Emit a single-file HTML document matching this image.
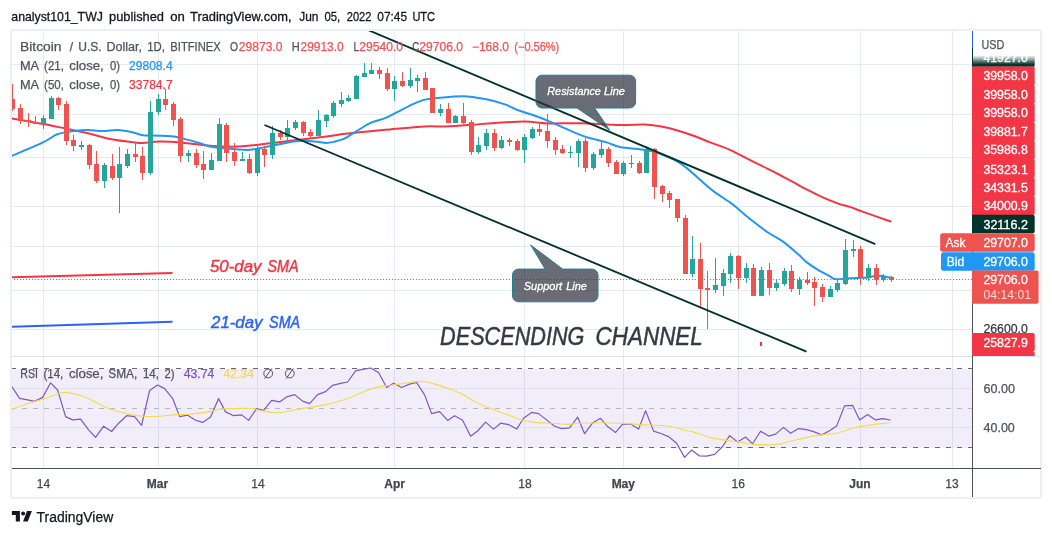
<!DOCTYPE html>
<html><head><meta charset="utf-8"><title>BTCUSD chart</title>
<style>
html,body{margin:0;padding:0;background:#fff;}
body{width:1052px;height:536px;overflow:hidden;font-family:"Liberation Sans",sans-serif;}
svg{display:block;font-family:"Liberation Sans",sans-serif;will-change:transform;}
</style></head><body>
<svg width="1052" height="536" viewBox="0 0 1052 536">
<defs>
<clipPath id="cpMain"><rect x="12" y="31" width="960" height="325"/></clipPath>
<clipPath id="cpRsi"><rect x="12" y="357" width="960" height="111"/></clipPath>
<linearGradient id="fade" x1="0" y1="0" x2="0" y2="1"><stop offset="0" stop-color="#00332a" stop-opacity="0"/><stop offset="0.75" stop-color="#00332a" stop-opacity="1"/><stop offset="1" stop-color="#00332a" stop-opacity="1"/></linearGradient>
<linearGradient id="wfade" x1="0" y1="0" x2="0" y2="1"><stop offset="0" stop-color="#fff" stop-opacity="1"/><stop offset="0.46" stop-color="#fff" stop-opacity="1"/><stop offset="0.98" stop-color="#fff" stop-opacity="0"/></linearGradient>
</defs>
<rect width="1052" height="536" fill="#fff"/>
<rect x="11" y="30" width="1030" height="468" rx="1.5" fill="#fff" stroke="#edeff4" stroke-width="2"/>
<g shape-rendering="crispEdges" stroke="#e2ecf3" stroke-width="1">
<line x1="43.5" y1="31" x2="43.5" y2="468"/>
<line x1="158.5" y1="31" x2="158.5" y2="468"/>
<line x1="257.5" y1="31" x2="257.5" y2="468"/>
<line x1="394.5" y1="31" x2="394.5" y2="468"/>
<line x1="524.5" y1="31" x2="524.5" y2="468"/>
<line x1="623.5" y1="31" x2="623.5" y2="468"/>
<line x1="738.5" y1="31" x2="738.5" y2="468"/>
<line x1="860.5" y1="31" x2="860.5" y2="468"/>
<line x1="952.5" y1="31" x2="952.5" y2="468"/>
<line x1="12" y1="64.5" x2="972" y2="64.5"/>
<line x1="12" y1="114.5" x2="972" y2="114.5"/>
<line x1="12" y1="157.5" x2="972" y2="157.5"/>
<line x1="12" y1="206.5" x2="972" y2="206.5"/>
<line x1="12" y1="246.5" x2="972" y2="246.5"/>
<line x1="12" y1="290.5" x2="972" y2="290.5"/>
<line x1="12" y1="329.5" x2="972" y2="329.5"/>
</g>
<rect x="12" y="369" width="960" height="79" fill="#7e57c2" fill-opacity="0.10"/>
<g shape-rendering="crispEdges" stroke="#dbe3f0" stroke-width="1">
<line x1="12" y1="388.5" x2="972" y2="388.5"/>
<line x1="12" y1="427.5" x2="972" y2="427.5"/>
</g>
<line x1="12" y1="356.5" x2="1040" y2="356.5" stroke="#e0e3eb" stroke-width="1" shape-rendering="crispEdges"/>
<g shape-rendering="crispEdges" stroke-width="1" fill="none">
<line x1="12" y1="368.5" x2="972" y2="368.5" stroke="#666975" stroke-dasharray="5 6" stroke-dashoffset="1"/>
<line x1="12" y1="447.5" x2="972" y2="447.5" stroke="#666975" stroke-dasharray="5 6" stroke-dashoffset="1"/>
<line x1="12" y1="408.5" x2="972" y2="408.5" stroke="#b4b6c0" stroke-dasharray="5 6" stroke-dashoffset="1"/>
</g>
<g clip-path="url(#cpMain)">
<path d="M11.0 118.3C16.3 119.2 33.8 122.3 43.0 124.0C52.2 125.7 58.5 127.1 66.0 128.6C73.5 130.1 80.7 131.5 88.0 133.2C95.3 134.9 102.2 137.5 110.0 139.0C117.8 140.5 129.5 141.8 135.0 142.4C140.5 143.1 138.8 143.0 143.0 142.9C147.2 142.8 153.0 141.6 160.0 141.6C167.0 141.6 176.7 142.2 185.0 142.9C193.3 143.6 201.7 145.2 210.0 145.8C218.3 146.4 227.2 146.8 235.0 146.6C242.8 146.4 250.4 145.5 256.5 144.9C262.6 144.3 264.0 143.8 271.5 142.9C279.0 142.0 292.4 140.7 301.5 139.6C310.6 138.5 319.5 137.5 326.4 136.6C333.3 135.7 337.4 134.8 343.0 134.1C348.6 133.4 352.2 133.0 360.0 132.2C367.8 131.4 379.2 130.4 390.0 129.4C400.8 128.4 415.7 126.9 425.0 126.4C434.3 125.9 438.3 126.8 446.0 126.5C453.7 126.2 462.8 125.5 471.0 124.9C479.2 124.3 486.0 123.5 495.0 123.0C504.0 122.5 516.2 121.5 525.0 121.6C533.8 121.7 538.7 123.1 548.0 123.4C557.3 123.7 569.0 123.0 581.0 123.3C593.0 123.6 609.3 124.8 620.0 125.0C630.7 125.2 638.1 124.3 645.0 124.6C651.9 124.9 656.1 125.6 661.6 126.6C667.1 127.6 672.7 129.2 678.2 130.8C683.8 132.4 689.4 134.3 694.9 136.3C700.4 138.3 706.0 140.8 711.5 142.9C717.0 145.0 722.7 146.7 728.2 149.1C733.8 151.5 739.3 154.6 744.8 157.4C750.3 160.2 755.9 162.9 761.4 165.7C766.9 168.5 772.5 171.1 778.0 174.0C783.5 176.9 790.2 180.5 794.7 182.9C799.2 185.3 800.5 186.3 805.0 188.6C809.5 190.9 816.1 194.4 821.6 196.9C827.1 199.4 833.5 201.9 838.2 203.6C842.9 205.3 845.7 205.5 849.9 206.9C854.1 208.3 856.4 209.5 863.2 211.9C870.0 214.3 886.0 219.9 890.6 221.5" fill="none" stroke="#f23645" stroke-width="2" stroke-linejoin="round" stroke-linecap="round"/>
<path d="M11.0 156.2C16.3 153.9 35.2 146.1 43.0 142.4C50.8 138.7 52.4 135.9 58.0 134.0C63.6 132.1 71.5 131.4 76.5 130.7C81.5 130.0 83.6 129.9 88.0 130.0C92.4 130.1 98.0 131.0 103.0 131.0C108.0 131.0 113.0 129.8 118.0 130.0C123.0 130.2 128.8 131.5 133.0 132.4C137.2 133.3 138.5 134.6 143.0 135.2C147.5 135.8 154.4 135.4 160.0 135.7C165.6 136.0 172.3 136.3 176.5 136.9C180.7 137.5 180.8 138.0 185.0 139.1C189.2 140.2 197.4 142.3 201.6 143.6C205.8 144.8 205.8 145.8 210.0 146.6C214.2 147.4 220.3 148.0 226.6 148.6C232.9 149.2 242.4 149.9 248.0 149.9C253.6 149.9 256.1 149.0 260.0 148.3C263.9 147.6 266.8 146.8 271.5 145.8C276.2 144.8 283.0 143.2 288.0 142.4C293.0 141.6 297.0 140.9 301.5 140.8C306.0 140.7 310.9 141.2 315.0 141.6C319.1 141.9 323.1 142.9 326.4 142.9C329.7 142.9 332.2 142.2 335.0 141.6C337.8 141.0 341.1 139.8 343.0 139.1C344.9 138.4 343.8 139.1 346.6 137.4C349.4 135.7 355.8 131.5 360.0 129.0C364.2 126.5 367.4 124.2 371.6 122.4C375.8 120.6 380.9 119.9 385.0 118.2C389.1 116.5 391.8 114.8 396.5 112.4C401.2 110.1 408.2 106.2 413.0 104.1C417.8 102.0 420.8 100.6 425.0 99.6C429.2 98.6 431.7 98.5 438.0 97.9C444.3 97.4 455.2 96.1 463.0 96.3C470.8 96.5 478.0 97.8 485.0 99.1C492.0 100.4 499.6 102.6 505.0 104.4C510.4 106.2 512.4 108.1 517.4 110.0C522.4 111.9 529.9 114.0 535.0 115.8C540.1 117.6 543.0 118.7 548.0 120.8C553.0 122.9 558.8 125.7 565.0 128.3C571.2 130.9 578.1 134.2 585.0 136.6C591.9 138.9 600.7 140.7 606.5 142.4C612.3 144.1 613.6 145.7 620.0 147.0C626.4 148.3 638.7 149.0 645.0 150.0C651.3 151.0 653.0 151.3 658.0 153.0C663.0 154.7 670.2 157.5 675.0 160.0C679.8 162.5 681.8 164.2 686.5 167.9C691.2 171.6 698.2 178.3 703.0 182.4C707.8 186.5 710.5 189.1 715.0 192.4C719.5 195.7 726.1 199.6 730.0 202.4C733.9 205.2 734.4 205.8 738.2 209.0C742.0 212.2 748.0 217.4 753.0 221.3C758.0 225.2 763.0 229.1 768.0 232.5C773.0 235.9 778.0 238.0 783.0 241.6C788.0 245.2 794.1 250.7 798.0 254.1C801.9 257.5 803.2 259.5 806.5 262.1C809.8 264.7 814.1 267.5 818.0 269.9C821.9 272.2 826.9 274.7 829.7 276.2C832.5 277.7 832.2 278.7 835.0 279.1C837.8 279.5 842.7 278.8 846.5 278.6C850.3 278.4 854.4 278.1 858.0 277.9C861.6 277.7 864.9 277.8 868.0 277.4C871.1 277.0 874.0 275.9 876.5 275.7C879.0 275.5 880.5 275.8 883.0 276.2C885.5 276.6 890.1 277.6 891.5 277.9" fill="none" stroke="#2196f3" stroke-width="2" stroke-linejoin="round" stroke-linecap="round"/>
<g shape-rendering="crispEdges">
<rect x="12" y="84" width="1" height="27" fill="#ef5350"/>
<rect x="10" y="99" width="5" height="10" fill="#ef5350"/>
<rect x="20" y="104" width="1" height="20" fill="#ef5350"/>
<rect x="18" y="108" width="5" height="13" fill="#ef5350"/>
<rect x="28" y="113" width="1" height="14" fill="#ef5350"/>
<rect x="26" y="120" width="5" height="2" fill="#ef5350"/>
<rect x="35" y="116" width="1" height="8" fill="#ef5350"/>
<rect x="33" y="122" width="5" height="2" fill="#ef5350"/>
<rect x="43" y="115" width="1" height="14" fill="#26a69a"/>
<rect x="41" y="118" width="5" height="6" fill="#26a69a"/>
<rect x="51" y="96" width="1" height="23" fill="#26a69a"/>
<rect x="49" y="98" width="5" height="21" fill="#26a69a"/>
<rect x="58" y="97" width="1" height="13" fill="#ef5350"/>
<rect x="56" y="98" width="5" height="7" fill="#ef5350"/>
<rect x="66" y="101" width="1" height="44" fill="#ef5350"/>
<rect x="64" y="104" width="5" height="37" fill="#ef5350"/>
<rect x="73" y="135" width="1" height="16" fill="#ef5350"/>
<rect x="71" y="140" width="5" height="6" fill="#ef5350"/>
<rect x="81" y="141" width="1" height="9" fill="#26a69a"/>
<rect x="79" y="145" width="5" height="2" fill="#26a69a"/>
<rect x="89" y="144" width="1" height="25" fill="#ef5350"/>
<rect x="87" y="145" width="5" height="20" fill="#ef5350"/>
<rect x="96" y="151" width="1" height="32" fill="#ef5350"/>
<rect x="94" y="164" width="5" height="17" fill="#ef5350"/>
<rect x="104" y="163" width="1" height="25" fill="#26a69a"/>
<rect x="102" y="165" width="5" height="16" fill="#26a69a"/>
<rect x="112" y="154" width="1" height="26" fill="#ef5350"/>
<rect x="110" y="166" width="5" height="12" fill="#ef5350"/>
<rect x="119" y="147" width="1" height="66" fill="#26a69a"/>
<rect x="117" y="164" width="5" height="14" fill="#26a69a"/>
<rect x="127" y="149" width="1" height="19" fill="#26a69a"/>
<rect x="125" y="154" width="5" height="12" fill="#26a69a"/>
<rect x="135" y="142" width="1" height="20" fill="#ef5350"/>
<rect x="133" y="154" width="5" height="3" fill="#ef5350"/>
<rect x="142" y="147" width="1" height="33" fill="#ef5350"/>
<rect x="140" y="156" width="5" height="17" fill="#ef5350"/>
<rect x="150" y="101" width="1" height="74" fill="#26a69a"/>
<rect x="148" y="112" width="5" height="61" fill="#26a69a"/>
<rect x="158" y="94" width="1" height="21" fill="#26a69a"/>
<rect x="156" y="99" width="5" height="13" fill="#26a69a"/>
<rect x="165" y="89" width="1" height="21" fill="#ef5350"/>
<rect x="163" y="99" width="5" height="6" fill="#ef5350"/>
<rect x="173" y="102" width="1" height="24" fill="#ef5350"/>
<rect x="171" y="104" width="5" height="16" fill="#ef5350"/>
<rect x="180" y="117" width="1" height="45" fill="#ef5350"/>
<rect x="178" y="119" width="5" height="37" fill="#ef5350"/>
<rect x="188" y="150" width="1" height="12" fill="#26a69a"/>
<rect x="186" y="153" width="5" height="3" fill="#26a69a"/>
<rect x="196" y="149" width="1" height="19" fill="#ef5350"/>
<rect x="194" y="153" width="5" height="12" fill="#ef5350"/>
<rect x="203" y="151" width="1" height="28" fill="#ef5350"/>
<rect x="201" y="164" width="5" height="6" fill="#ef5350"/>
<rect x="211" y="153" width="1" height="17" fill="#26a69a"/>
<rect x="209" y="160" width="5" height="10" fill="#26a69a"/>
<rect x="219" y="118" width="1" height="43" fill="#26a69a"/>
<rect x="217" y="124" width="5" height="37" fill="#26a69a"/>
<rect x="226" y="123" width="1" height="39" fill="#ef5350"/>
<rect x="224" y="125" width="5" height="28" fill="#ef5350"/>
<rect x="234" y="143" width="1" height="23" fill="#ef5350"/>
<rect x="232" y="152" width="5" height="9" fill="#ef5350"/>
<rect x="242" y="152" width="1" height="9" fill="#26a69a"/>
<rect x="240" y="159" width="5" height="2" fill="#26a69a"/>
<rect x="249" y="154" width="1" height="20" fill="#ef5350"/>
<rect x="247" y="159" width="5" height="14" fill="#ef5350"/>
<rect x="257" y="146" width="1" height="30" fill="#26a69a"/>
<rect x="255" y="149" width="5" height="24" fill="#26a69a"/>
<rect x="264" y="146" width="1" height="21" fill="#ef5350"/>
<rect x="262" y="149" width="5" height="6" fill="#ef5350"/>
<rect x="272" y="126" width="1" height="33" fill="#26a69a"/>
<rect x="270" y="133" width="5" height="22" fill="#26a69a"/>
<rect x="280" y="130" width="1" height="10" fill="#ef5350"/>
<rect x="278" y="133" width="5" height="4" fill="#ef5350"/>
<rect x="287" y="120" width="1" height="23" fill="#26a69a"/>
<rect x="285" y="128" width="5" height="9" fill="#26a69a"/>
<rect x="295" y="120" width="1" height="10" fill="#26a69a"/>
<rect x="293" y="122" width="5" height="6" fill="#26a69a"/>
<rect x="303" y="121" width="1" height="15" fill="#ef5350"/>
<rect x="301" y="122" width="5" height="11" fill="#ef5350"/>
<rect x="310" y="129" width="1" height="10" fill="#ef5350"/>
<rect x="308" y="132" width="5" height="4" fill="#ef5350"/>
<rect x="318" y="110" width="1" height="26" fill="#26a69a"/>
<rect x="316" y="120" width="5" height="16" fill="#26a69a"/>
<rect x="326" y="114" width="1" height="13" fill="#26a69a"/>
<rect x="324" y="115" width="5" height="6" fill="#26a69a"/>
<rect x="333" y="101" width="1" height="17" fill="#26a69a"/>
<rect x="331" y="103" width="5" height="13" fill="#26a69a"/>
<rect x="341" y="92" width="1" height="15" fill="#26a69a"/>
<rect x="339" y="100" width="5" height="4" fill="#26a69a"/>
<rect x="348" y="95" width="1" height="7" fill="#26a69a"/>
<rect x="346" y="98" width="5" height="3" fill="#26a69a"/>
<rect x="356" y="75" width="1" height="24" fill="#26a69a"/>
<rect x="354" y="76" width="5" height="23" fill="#26a69a"/>
<rect x="364" y="63" width="1" height="14" fill="#26a69a"/>
<rect x="362" y="73" width="5" height="4" fill="#26a69a"/>
<rect x="371" y="63" width="1" height="11" fill="#26a69a"/>
<rect x="369" y="70" width="5" height="4" fill="#26a69a"/>
<rect x="379" y="67" width="1" height="12" fill="#ef5350"/>
<rect x="377" y="70" width="5" height="4" fill="#ef5350"/>
<rect x="387" y="68" width="1" height="23" fill="#ef5350"/>
<rect x="385" y="73" width="5" height="16" fill="#ef5350"/>
<rect x="394" y="76" width="1" height="25" fill="#26a69a"/>
<rect x="392" y="81" width="5" height="8" fill="#26a69a"/>
<rect x="402" y="72" width="1" height="15" fill="#ef5350"/>
<rect x="400" y="81" width="5" height="5" fill="#ef5350"/>
<rect x="410" y="68" width="1" height="20" fill="#26a69a"/>
<rect x="408" y="80" width="5" height="6" fill="#26a69a"/>
<rect x="417" y="75" width="1" height="17" fill="#26a69a"/>
<rect x="415" y="78" width="5" height="3" fill="#26a69a"/>
<rect x="425" y="72" width="1" height="18" fill="#ef5350"/>
<rect x="423" y="78" width="5" height="12" fill="#ef5350"/>
<rect x="432" y="88" width="1" height="25" fill="#ef5350"/>
<rect x="430" y="88" width="5" height="25" fill="#ef5350"/>
<rect x="440" y="104" width="1" height="12" fill="#26a69a"/>
<rect x="438" y="109" width="5" height="4" fill="#26a69a"/>
<rect x="448" y="103" width="1" height="20" fill="#ef5350"/>
<rect x="446" y="109" width="5" height="14" fill="#ef5350"/>
<rect x="455" y="115" width="1" height="8" fill="#26a69a"/>
<rect x="453" y="116" width="5" height="7" fill="#26a69a"/>
<rect x="463" y="103" width="1" height="21" fill="#ef5350"/>
<rect x="461" y="116" width="5" height="7" fill="#ef5350"/>
<rect x="471" y="120" width="1" height="35" fill="#ef5350"/>
<rect x="469" y="122" width="5" height="30" fill="#ef5350"/>
<rect x="478" y="137" width="1" height="17" fill="#26a69a"/>
<rect x="476" y="145" width="5" height="7" fill="#26a69a"/>
<rect x="486" y="129" width="1" height="21" fill="#26a69a"/>
<rect x="484" y="133" width="5" height="13" fill="#26a69a"/>
<rect x="494" y="129" width="1" height="22" fill="#ef5350"/>
<rect x="492" y="133" width="5" height="15" fill="#ef5350"/>
<rect x="501" y="136" width="1" height="13" fill="#26a69a"/>
<rect x="499" y="140" width="5" height="8" fill="#26a69a"/>
<rect x="509" y="138" width="1" height="8" fill="#ef5350"/>
<rect x="507" y="140" width="5" height="2" fill="#ef5350"/>
<rect x="517" y="139" width="1" height="12" fill="#ef5350"/>
<rect x="515" y="141" width="5" height="9" fill="#ef5350"/>
<rect x="524" y="134" width="1" height="29" fill="#26a69a"/>
<rect x="522" y="137" width="5" height="13" fill="#26a69a"/>
<rect x="532" y="127" width="1" height="12" fill="#26a69a"/>
<rect x="530" y="129" width="5" height="9" fill="#26a69a"/>
<rect x="539" y="122" width="1" height="14" fill="#ef5350"/>
<rect x="537" y="129" width="5" height="3" fill="#ef5350"/>
<rect x="547" y="114" width="1" height="34" fill="#ef5350"/>
<rect x="545" y="131" width="5" height="10" fill="#ef5350"/>
<rect x="555" y="137" width="1" height="18" fill="#ef5350"/>
<rect x="553" y="140" width="5" height="10" fill="#ef5350"/>
<rect x="562" y="145" width="1" height="9" fill="#ef5350"/>
<rect x="560" y="149" width="5" height="4" fill="#ef5350"/>
<rect x="570" y="146" width="1" height="12" fill="#26a69a"/>
<rect x="568" y="152" width="5" height="1" fill="#26a69a"/>
<rect x="578" y="139" width="1" height="28" fill="#26a69a"/>
<rect x="576" y="141" width="5" height="12" fill="#26a69a"/>
<rect x="585" y="138" width="1" height="34" fill="#ef5350"/>
<rect x="583" y="141" width="5" height="27" fill="#ef5350"/>
<rect x="593" y="152" width="1" height="18" fill="#26a69a"/>
<rect x="591" y="154" width="5" height="14" fill="#26a69a"/>
<rect x="601" y="142" width="1" height="16" fill="#26a69a"/>
<rect x="599" y="149" width="5" height="6" fill="#26a69a"/>
<rect x="608" y="147" width="1" height="20" fill="#ef5350"/>
<rect x="606" y="149" width="5" height="14" fill="#ef5350"/>
<rect x="616" y="160" width="1" height="14" fill="#ef5350"/>
<rect x="614" y="162" width="5" height="12" fill="#ef5350"/>
<rect x="623" y="161" width="1" height="15" fill="#26a69a"/>
<rect x="621" y="163" width="5" height="11" fill="#26a69a"/>
<rect x="631" y="155" width="1" height="13" fill="#26a69a"/>
<rect x="629" y="163" width="5" height="1" fill="#26a69a"/>
<rect x="639" y="161" width="1" height="13" fill="#ef5350"/>
<rect x="637" y="163" width="5" height="10" fill="#ef5350"/>
<rect x="646" y="146" width="1" height="27" fill="#26a69a"/>
<rect x="644" y="149" width="5" height="24" fill="#26a69a"/>
<rect x="654" y="148" width="1" height="51" fill="#ef5350"/>
<rect x="652" y="149" width="5" height="38" fill="#ef5350"/>
<rect x="662" y="185" width="1" height="17" fill="#ef5350"/>
<rect x="660" y="186" width="5" height="8" fill="#ef5350"/>
<rect x="669" y="191" width="1" height="17" fill="#ef5350"/>
<rect x="667" y="193" width="5" height="7" fill="#ef5350"/>
<rect x="677" y="199" width="1" height="23" fill="#ef5350"/>
<rect x="675" y="199" width="5" height="19" fill="#ef5350"/>
<rect x="685" y="215" width="1" height="59" fill="#ef5350"/>
<rect x="683" y="218" width="5" height="56" fill="#ef5350"/>
<rect x="692" y="236" width="1" height="41" fill="#26a69a"/>
<rect x="690" y="259" width="5" height="15" fill="#26a69a"/>
<rect x="700" y="243" width="1" height="64" fill="#ef5350"/>
<rect x="698" y="259" width="5" height="30" fill="#ef5350"/>
<rect x="707" y="271" width="1" height="58" fill="#ef5350"/>
<rect x="705" y="288" width="5" height="2" fill="#ef5350"/>
<rect x="715" y="258" width="1" height="35" fill="#26a69a"/>
<rect x="713" y="285" width="5" height="5" fill="#26a69a"/>
<rect x="723" y="269" width="1" height="27" fill="#26a69a"/>
<rect x="721" y="273" width="5" height="13" fill="#26a69a"/>
<rect x="730" y="253" width="1" height="30" fill="#26a69a"/>
<rect x="728" y="256" width="5" height="18" fill="#26a69a"/>
<rect x="738" y="255" width="1" height="34" fill="#ef5350"/>
<rect x="736" y="256" width="5" height="22" fill="#ef5350"/>
<rect x="746" y="263" width="1" height="20" fill="#26a69a"/>
<rect x="744" y="268" width="5" height="10" fill="#26a69a"/>
<rect x="753" y="264" width="1" height="32" fill="#ef5350"/>
<rect x="751" y="268" width="5" height="28" fill="#ef5350"/>
<rect x="761" y="267" width="1" height="29" fill="#26a69a"/>
<rect x="759" y="270" width="5" height="26" fill="#26a69a"/>
<rect x="769" y="263" width="1" height="32" fill="#ef5350"/>
<rect x="767" y="270" width="5" height="18" fill="#ef5350"/>
<rect x="776" y="280" width="1" height="11" fill="#26a69a"/>
<rect x="774" y="283" width="5" height="5" fill="#26a69a"/>
<rect x="784" y="268" width="1" height="18" fill="#26a69a"/>
<rect x="782" y="271" width="5" height="13" fill="#26a69a"/>
<rect x="791" y="265" width="1" height="27" fill="#ef5350"/>
<rect x="789" y="271" width="5" height="18" fill="#ef5350"/>
<rect x="799" y="277" width="1" height="18" fill="#26a69a"/>
<rect x="797" y="280" width="5" height="9" fill="#26a69a"/>
<rect x="807" y="272" width="1" height="13" fill="#ef5350"/>
<rect x="805" y="280" width="5" height="3" fill="#ef5350"/>
<rect x="814" y="277" width="1" height="29" fill="#ef5350"/>
<rect x="812" y="282" width="5" height="6" fill="#ef5350"/>
<rect x="822" y="284" width="1" height="18" fill="#ef5350"/>
<rect x="820" y="287" width="5" height="10" fill="#ef5350"/>
<rect x="830" y="286" width="1" height="11" fill="#26a69a"/>
<rect x="828" y="289" width="5" height="8" fill="#26a69a"/>
<rect x="837" y="280" width="1" height="12" fill="#26a69a"/>
<rect x="835" y="283" width="5" height="7" fill="#26a69a"/>
<rect x="845" y="239" width="1" height="46" fill="#26a69a"/>
<rect x="843" y="250" width="5" height="34" fill="#26a69a"/>
<rect x="853" y="240" width="1" height="17" fill="#26a69a"/>
<rect x="851" y="249" width="5" height="2" fill="#26a69a"/>
<rect x="860" y="246" width="1" height="39" fill="#ef5350"/>
<rect x="858" y="249" width="5" height="29" fill="#ef5350"/>
<rect x="868" y="264" width="1" height="17" fill="#26a69a"/>
<rect x="866" y="268" width="5" height="10" fill="#26a69a"/>
<rect x="876" y="264" width="1" height="21" fill="#ef5350"/>
<rect x="874" y="268" width="5" height="12" fill="#ef5350"/>
<rect x="883" y="274" width="1" height="8" fill="#26a69a"/>
<rect x="881" y="277" width="5" height="3" fill="#26a69a"/>
<rect x="891" y="276" width="1" height="6" fill="#ef5350"/>
<rect x="889" y="277" width="5" height="3" fill="#ef5350"/>
<rect x="760" y="342" width="2" height="4" fill="#f23645"/>
</g>
<line x1="11" y1="279.5" x2="972" y2="279.5" stroke="#ef5350" stroke-width="1" stroke-dasharray="1 2" shape-rendering="crispEdges"/>
<line x1="368" y1="30" x2="875.3" y2="244.1" stroke="#00332a" stroke-width="1.85"/>
<line x1="264.5" y1="125" x2="806.5" y2="351.7" stroke="#00332a" stroke-width="1.85"/>
<line x1="12" y1="277.3" x2="172.5" y2="273" stroke="#f23645" stroke-width="2"/>
<line x1="12" y1="326.8" x2="172.5" y2="321.8" stroke="#2962ff" stroke-width="2"/>
<g fill="#2a2e39" fill-opacity="0.7" stroke="#1f7f93" stroke-width="1">
<path d="M542 75.2H629.6a6 6 0 0 1 6 6V102a6 6 0 0 1-6 6H594.6L609.8 130.3L577 108H542a6 6 0 0 1-6-6V81.2a6 6 0 0 1 6-6Z"/>
<path d="M518.5 269.1H545.2L530.7 245L562.7 269.1H592a6 6 0 0 1 6 6V295.8a6 6 0 0 1-6 6H518.5a6 6 0 0 1-6-6V275.1a6 6 0 0 1 6-6Z"/>
</g>
<text x="547.3" y="95.1" font-size="11" fill="#fff" font-style="italic" textLength="53.6" lengthAdjust="spacingAndGlyphs" stroke="#fff" stroke-width="0.3">Resistance</text>
<text x="604" y="95.1" font-size="11" fill="#fff" font-style="italic" textLength="21" lengthAdjust="spacingAndGlyphs" stroke="#fff" stroke-width="0.3">Line</text>
<text x="523.8" y="290" font-size="11" fill="#fff" font-style="italic" textLength="38.3" lengthAdjust="spacingAndGlyphs" stroke="#fff" stroke-width="0.3">Support</text>
<text x="566.2" y="290" font-size="11" fill="#fff" font-style="italic" textLength="20.8" lengthAdjust="spacingAndGlyphs" stroke="#fff" stroke-width="0.3">Line</text>
<text x="210" y="271.8" font-size="16" fill="#f23645" font-style="italic" textLength="51.5" lengthAdjust="spacingAndGlyphs" stroke="#f23645" stroke-width="0.45">50-day</text>
<text x="267.4" y="271.8" font-size="16" fill="#f23645" font-style="italic" textLength="31.1" lengthAdjust="spacingAndGlyphs" stroke="#f23645" stroke-width="0.45">SMA</text>
<text x="211.1" y="327.6" font-size="16" fill="#2962ff" font-style="italic" textLength="51.3" lengthAdjust="spacingAndGlyphs" stroke="#2962ff" stroke-width="0.45">21-day</text>
<text x="269.1" y="327.6" font-size="16" fill="#2962ff" font-style="italic" textLength="31" lengthAdjust="spacingAndGlyphs" stroke="#2962ff" stroke-width="0.45">SMA</text>
<text x="440.1" y="344.7" font-size="25.3" fill="#363a45" font-style="italic" textLength="144.3" lengthAdjust="spacingAndGlyphs" stroke="#363a45" stroke-width="0.5">DESCENDING</text>
<text x="595.6" y="344.7" font-size="25.3" fill="#363a45" font-style="italic" textLength="107.2" lengthAdjust="spacingAndGlyphs" stroke="#363a45" stroke-width="0.5">CHANNEL</text>
</g>
<text x="20" y="50.8" font-size="12" fill="#50535e" textLength="41.5" lengthAdjust="spacingAndGlyphs" stroke="#50535e" stroke-width="0.25">Bitcoin</text>
<text x="69.8" y="50.8" font-size="12" fill="#50535e" stroke="#50535e" stroke-width="0.25">/</text>
<text x="78.2" y="50.8" font-size="12" fill="#50535e" textLength="23.5" lengthAdjust="spacingAndGlyphs" stroke="#50535e" stroke-width="0.25">U.S.</text>
<text x="106.5" y="50.8" font-size="12" fill="#50535e" textLength="35.5" lengthAdjust="spacingAndGlyphs" stroke="#50535e" stroke-width="0.25">Dollar,</text>
<text x="147.3" y="50.8" font-size="12" fill="#50535e" textLength="17.7" lengthAdjust="spacingAndGlyphs" stroke="#50535e" stroke-width="0.25">1D,</text>
<text x="170.3" y="50.8" font-size="12" fill="#50535e" textLength="50.4" lengthAdjust="spacingAndGlyphs" stroke="#50535e" stroke-width="0.25">BITFINEX</text>
<text x="230" y="50.8" font-size="12" fill="#50535e" textLength="8" lengthAdjust="spacingAndGlyphs" stroke="#50535e" stroke-width="0.25">O</text>
<text x="238.7" y="50.8" font-size="12" fill="#ef5350" textLength="43.8" lengthAdjust="spacingAndGlyphs" stroke="#ef5350" stroke-width="0.25">29873.0</text>
<text x="291.7" y="50.8" font-size="12" fill="#50535e" textLength="8" lengthAdjust="spacingAndGlyphs" stroke="#50535e" stroke-width="0.25">H</text>
<text x="300.5" y="50.8" font-size="12" fill="#ef5350" textLength="43.2" lengthAdjust="spacingAndGlyphs" stroke="#ef5350" stroke-width="0.25">29913.0</text>
<text x="353.5" y="50.8" font-size="12" fill="#50535e" textLength="5.6" lengthAdjust="spacingAndGlyphs" stroke="#50535e" stroke-width="0.25">L</text>
<text x="359.3" y="50.8" font-size="12" fill="#ef5350" textLength="43.7" lengthAdjust="spacingAndGlyphs" stroke="#ef5350" stroke-width="0.25">29540.0</text>
<text x="412.2" y="50.8" font-size="12" fill="#50535e" textLength="7" lengthAdjust="spacingAndGlyphs" stroke="#50535e" stroke-width="0.25">C</text>
<text x="419.3" y="50.8" font-size="12" fill="#ef5350" textLength="43.7" lengthAdjust="spacingAndGlyphs" stroke="#ef5350" stroke-width="0.25">29706.0</text>
<text x="471.9" y="50.8" font-size="12" fill="#ef5350" textLength="37.1" lengthAdjust="spacingAndGlyphs" stroke="#ef5350" stroke-width="0.25">−168.0</text>
<text x="514.3" y="50.8" font-size="12" fill="#ef5350" textLength="45" lengthAdjust="spacingAndGlyphs" stroke="#ef5350" stroke-width="0.25">(−0.56%)</text>
<text x="19.9" y="69.8" font-size="12" fill="#50535e" textLength="19.2" lengthAdjust="spacingAndGlyphs" stroke="#50535e" stroke-width="0.25">MA</text>
<text x="44.1" y="69.8" font-size="12" fill="#50535e" textLength="19.8" lengthAdjust="spacingAndGlyphs" stroke="#50535e" stroke-width="0.25">(21,</text>
<text x="69.3" y="69.8" font-size="12" fill="#50535e" textLength="34.5" lengthAdjust="spacingAndGlyphs" stroke="#50535e" stroke-width="0.25">close,</text>
<text x="110" y="69.8" font-size="12" fill="#50535e" textLength="10" lengthAdjust="spacingAndGlyphs" stroke="#50535e" stroke-width="0.25">0)</text>
<text x="129.1" y="69.8" font-size="12" fill="#2196f3" textLength="43.5" lengthAdjust="spacingAndGlyphs" stroke="#2196f3" stroke-width="0.25">29808.4</text>
<text x="19.9" y="88.7" font-size="12" fill="#50535e" textLength="19.2" lengthAdjust="spacingAndGlyphs" stroke="#50535e" stroke-width="0.25">MA</text>
<text x="44.1" y="88.7" font-size="12" fill="#50535e" textLength="19.8" lengthAdjust="spacingAndGlyphs" stroke="#50535e" stroke-width="0.25">(50,</text>
<text x="69.3" y="88.7" font-size="12" fill="#50535e" textLength="34.5" lengthAdjust="spacingAndGlyphs" stroke="#50535e" stroke-width="0.25">close,</text>
<text x="110" y="88.7" font-size="12" fill="#50535e" textLength="10" lengthAdjust="spacingAndGlyphs" stroke="#50535e" stroke-width="0.25">0)</text>
<text x="129.1" y="88.7" font-size="12" fill="#f23645" textLength="43.5" lengthAdjust="spacingAndGlyphs" stroke="#f23645" stroke-width="0.25">33784.7</text>
<g clip-path="url(#cpRsi)">
<polyline points="11.6,386.3 19.6,398.3 27.6,399.9 34.6,401.3 42.6,397.4 50.6,382.8 57.6,390.0 65.6,416.6 72.6,419.9 80.6,419.1 88.6,429.9 95.6,437.4 103.6,426.2 111.6,431.5 118.6,423.2 126.6,415.7 134.6,416.6 141.6,425.4 149.6,390.4 157.6,385.0 164.6,388.6 172.6,398.3 179.6,416.6 187.6,415.2 195.6,420.2 202.6,422.4 210.6,416.9 218.6,398.6 225.6,411.9 233.6,415.7 241.6,414.9 248.6,420.4 256.6,408.6 263.6,410.4 271.6,400.4 279.6,401.9 286.6,396.9 294.6,394.6 302.6,401.1 309.6,403.6 317.6,394.6 325.6,391.6 332.6,385.3 340.6,383.3 347.6,382.0 355.6,370.8 363.6,369.2 370.6,368.0 378.6,372.5 386.6,387.5 393.6,383.3 401.6,387.5 409.6,384.1 416.6,382.5 424.6,394.9 431.6,413.6 439.6,411.6 447.6,420.4 454.6,415.7 462.6,420.2 470.6,436.2 477.6,431.0 485.6,422.1 493.6,429.1 500.6,423.2 508.6,424.6 516.6,429.1 523.6,418.2 531.6,412.4 538.6,413.6 546.6,419.9 554.6,426.2 561.6,428.6 569.6,427.9 577.6,417.1 584.6,433.7 592.6,422.9 600.6,418.3 607.6,426.6 615.6,432.4 622.6,424.1 630.6,424.1 638.6,429.1 645.6,410.8 653.6,431.1 661.6,433.7 668.6,436.6 676.6,443.2 684.6,457.4 691.6,449.9 699.6,456.0 706.6,456.2 714.6,454.4 722.6,446.5 729.6,435.7 737.6,441.9 745.6,437.1 752.6,443.7 760.6,431.2 768.6,436.1 775.6,434.1 783.6,427.4 790.6,433.2 798.6,428.6 806.6,429.6 813.6,431.6 821.6,434.9 829.6,430.7 836.6,426.1 844.6,405.8 852.6,405.3 859.6,419.9 867.6,414.6 875.6,419.9 882.6,418.6 890.6,420.0" fill="none" stroke="#7e57c2" stroke-width="1.2" stroke-linejoin="round"/>
<path d="M11.0 409.6C13.6 408.7 21.2 405.9 26.6 404.1C32.0 402.4 38.1 400.8 43.3 399.1C48.5 397.4 54.3 394.9 58.0 393.8C61.7 392.7 62.0 392.1 65.7 392.4C69.4 392.6 75.5 393.9 80.0 395.3C84.5 396.7 88.0 398.5 93.0 400.8C98.0 403.1 104.4 407.0 110.0 409.1C115.6 411.2 121.0 412.4 126.5 413.6C132.0 414.8 137.4 415.8 143.0 416.2C148.6 416.6 154.4 416.5 160.0 416.2C165.6 415.9 172.2 414.9 176.4 414.6C180.6 414.3 179.4 415.0 185.0 414.5C190.6 414.0 204.2 412.5 210.0 411.6C215.8 410.7 215.8 409.6 220.0 409.1C224.2 408.6 230.0 408.7 235.0 408.6C240.0 408.5 245.8 408.0 250.0 408.3C254.2 408.6 256.4 409.7 260.0 410.4C263.6 411.1 267.9 412.1 271.5 412.4C275.1 412.7 276.5 413.0 281.5 412.4C286.5 411.8 294.0 409.9 301.5 408.6C309.0 407.3 318.9 406.2 326.4 404.6C333.9 403.0 340.8 401.0 346.4 399.1C352.0 397.2 355.0 395.3 360.0 393.3C365.0 391.3 371.1 388.5 376.6 387.1C382.2 385.7 387.7 385.8 393.3 385.0C398.9 384.2 405.3 383.1 410.0 382.5C414.7 381.9 417.4 381.0 421.6 381.3C425.8 381.6 430.0 382.7 435.0 384.1C440.0 385.5 446.8 387.9 451.5 389.6C456.2 391.4 458.8 392.5 463.0 394.6C467.2 396.7 471.5 399.9 476.5 402.4C481.5 404.9 487.4 407.4 493.0 409.6C498.6 411.8 505.0 413.9 510.0 415.7C515.0 417.5 518.8 419.1 523.0 420.2C527.2 421.3 530.2 421.9 535.0 422.4C539.8 422.9 546.1 422.9 551.6 423.2C557.1 423.5 563.8 424.4 568.3 424.4C572.8 424.4 572.8 423.5 578.3 423.2C583.8 422.9 594.4 422.7 601.6 422.7C608.8 422.7 614.9 422.9 621.5 423.2C628.1 423.5 634.3 424.2 641.5 424.6C648.7 425.0 659.0 425.2 664.8 425.7C670.6 426.2 673.1 426.9 676.4 427.7C679.7 428.4 682.0 429.5 684.8 430.2C687.6 430.9 690.2 431.2 693.0 431.9C695.8 432.6 698.6 433.7 701.4 434.6C704.2 435.5 706.4 436.5 710.0 437.4C713.6 438.3 718.6 439.1 723.3 439.9C728.0 440.6 733.3 441.1 738.3 441.9C743.3 442.6 748.6 443.9 753.3 444.4C758.0 444.9 762.7 444.9 766.6 444.9C770.5 444.9 772.2 445.1 776.6 444.4C781.0 443.7 787.7 441.9 793.2 440.7C798.7 439.4 804.2 438.0 809.8 436.9C815.3 435.8 822.0 434.7 826.5 434.1C831.0 433.5 832.4 434.1 836.5 433.2C840.6 432.3 847.5 429.7 851.4 428.6C855.3 427.5 855.6 427.4 859.8 426.6C864.0 425.9 871.3 424.8 876.4 424.1C881.5 423.5 888.0 422.9 890.3 422.7" fill="none" stroke="#f5d94f" stroke-width="1.1" stroke-linejoin="round"/>
</g>
<text x="20.3" y="377.8" font-size="12" fill="#50535e" textLength="17.6" lengthAdjust="spacingAndGlyphs" stroke="#50535e" stroke-width="0.25">RSI</text>
<text x="43.5" y="377.8" font-size="12" fill="#50535e" textLength="19.7" lengthAdjust="spacingAndGlyphs" stroke="#50535e" stroke-width="0.25">(14,</text>
<text x="68.9" y="377.8" font-size="12" fill="#50535e" textLength="34.5" lengthAdjust="spacingAndGlyphs" stroke="#50535e" stroke-width="0.25">close,</text>
<text x="108.3" y="377.8" font-size="12" fill="#50535e" textLength="28.9" lengthAdjust="spacingAndGlyphs" stroke="#50535e" stroke-width="0.25">SMA,</text>
<text x="142.9" y="377.8" font-size="12" fill="#50535e" textLength="16" lengthAdjust="spacingAndGlyphs" stroke="#50535e" stroke-width="0.25">14,</text>
<text x="164.5" y="377.8" font-size="12" fill="#50535e" textLength="10" lengthAdjust="spacingAndGlyphs" stroke="#50535e" stroke-width="0.25">2)</text>
<text x="183.7" y="377.8" font-size="12" fill="#7e57c2" textLength="30.6" lengthAdjust="spacingAndGlyphs" stroke="#7e57c2" stroke-width="0.25">43.74</text>
<text x="223.4" y="377.8" font-size="12" fill="#f5d94f" textLength="30.4" lengthAdjust="spacingAndGlyphs" stroke="#f5d94f" stroke-width="0.25">42.34</text>
<circle cx="268.2" cy="373.5" r="4.4" fill="none" stroke="#50535e" stroke-width="1"/>
<line x1="264.6" y1="378.6" x2="271.8" y2="368.4" stroke="#50535e" stroke-width="1"/>
<circle cx="289.8" cy="373.5" r="4.4" fill="none" stroke="#50535e" stroke-width="1"/>
<line x1="286.2" y1="378.6" x2="293.4" y2="368.4" stroke="#50535e" stroke-width="1"/>
<line x1="972.5" y1="31" x2="972.5" y2="497" stroke="#4c4f5e" stroke-width="1" shape-rendering="crispEdges"/>
<line x1="972.5" y1="31" x2="972.5" y2="48" stroke="#2962ff" stroke-width="1" shape-rendering="crispEdges"/>
<line x1="972.5" y1="48" x2="972.5" y2="67" stroke="#00332a" stroke-width="1" shape-rendering="crispEdges"/>
<text x="983.4" y="332.8" font-size="12" fill="#363a45" textLength="44.5" lengthAdjust="spacingAndGlyphs" stroke="#363a45" stroke-width="0.25">26600.0</text>
<text x="983.5" y="393" font-size="12" fill="#50535e" textLength="31.5" lengthAdjust="spacingAndGlyphs" stroke="#50535e" stroke-width="0.25">60.00</text>
<text x="983.5" y="432" font-size="12" fill="#50535e" textLength="31.3" lengthAdjust="spacingAndGlyphs" stroke="#50535e" stroke-width="0.25">40.00</text>
<path d="M972 48.4H1034.7V65.2a1.6 1.6 0 0 1-1.6 1.6H972Z" fill="#00332a"/>
<text x="983.4" y="61.9" font-size="12" fill="#fff" textLength="44.5" lengthAdjust="spacingAndGlyphs" stroke="#fff" stroke-width="0.3">41927.0</text>
<rect x="973" y="47" width="63" height="18" fill="url(#wfade)"/>
<text x="981.5" y="48.8" font-size="12" fill="#50535e" textLength="22.8" lengthAdjust="spacingAndGlyphs" stroke="#50535e" stroke-width="0.25">USD</text>
<path d="M972 66.8H1033.4a1.3 1.3 0 0 1 1.3 1.3V84.0a1.3 1.3 0 0 1-1.3 1.3H972Z" fill="#f23645"/>
<rect x="972" y="66.8" width="61.5" height="18.8" fill="#f23645"/>
<text x="983.4" y="79.89999999999999" font-size="12" fill="#fff" textLength="44.5" lengthAdjust="spacingAndGlyphs" stroke="#fff" stroke-width="0.3">39958.0</text>
<path d="M972 85.3H1033.4a1.3 1.3 0 0 1 1.3 1.3V102.5a1.3 1.3 0 0 1-1.3 1.3H972Z" fill="#f23645"/>
<rect x="972" y="85.3" width="61.5" height="18.8" fill="#f23645"/>
<text x="983.4" y="99.1" font-size="12" fill="#fff" textLength="44.5" lengthAdjust="spacingAndGlyphs" stroke="#fff" stroke-width="0.3">39958.0</text>
<path d="M972 103.8H1033.4a1.3 1.3 0 0 1 1.3 1.3V121.0a1.3 1.3 0 0 1-1.3 1.3H972Z" fill="#f23645"/>
<rect x="972" y="103.8" width="61.5" height="18.8" fill="#f23645"/>
<text x="983.4" y="117.1" font-size="12" fill="#fff" textLength="44.5" lengthAdjust="spacingAndGlyphs" stroke="#fff" stroke-width="0.3">39958.0</text>
<path d="M972 122.3H1033.4a1.3 1.3 0 0 1 1.3 1.3V139.5a1.3 1.3 0 0 1-1.3 1.3H972Z" fill="#f23645"/>
<rect x="972" y="122.3" width="61.5" height="18.8" fill="#f23645"/>
<text x="983.4" y="135.5" font-size="12" fill="#fff" textLength="44.5" lengthAdjust="spacingAndGlyphs" stroke="#fff" stroke-width="0.3">39881.7</text>
<path d="M972 140.8H1033.4a1.3 1.3 0 0 1 1.3 1.3V158.0a1.3 1.3 0 0 1-1.3 1.3H972Z" fill="#f23645"/>
<rect x="972" y="140.8" width="61.5" height="18.8" fill="#f23645"/>
<text x="983.4" y="153.5" font-size="12" fill="#fff" textLength="44.5" lengthAdjust="spacingAndGlyphs" stroke="#fff" stroke-width="0.3">35986.8</text>
<path d="M972 159.3H1033.4a1.3 1.3 0 0 1 1.3 1.3V176.5a1.3 1.3 0 0 1-1.3 1.3H972Z" fill="#f23645"/>
<rect x="972" y="159.3" width="61.5" height="18.8" fill="#f23645"/>
<text x="983.4" y="173.5" font-size="12" fill="#fff" textLength="44.5" lengthAdjust="spacingAndGlyphs" stroke="#fff" stroke-width="0.3">35323.1</text>
<path d="M972 177.8H1033.4a1.3 1.3 0 0 1 1.3 1.3V195.0a1.3 1.3 0 0 1-1.3 1.3H972Z" fill="#f23645"/>
<rect x="972" y="177.8" width="61.5" height="18.8" fill="#f23645"/>
<text x="983.4" y="191.70000000000002" font-size="12" fill="#fff" textLength="44.5" lengthAdjust="spacingAndGlyphs" stroke="#fff" stroke-width="0.3">34331.5</text>
<path d="M972 196.3H1033.4a1.3 1.3 0 0 1 1.3 1.3V213.5a1.3 1.3 0 0 1-1.3 1.3H972Z" fill="#f23645"/>
<rect x="972" y="196.3" width="61.5" height="18.8" fill="#f23645"/>
<text x="983.4" y="209.5" font-size="12" fill="#fff" textLength="44.5" lengthAdjust="spacingAndGlyphs" stroke="#fff" stroke-width="0.3">34000.9</text>
<path d="M972 214.8H1032.7a2 2 0 0 1 2 2V231.2a2 2 0 0 1-2 2H972Z" fill="#00332a"/>
<text x="983.4" y="229.1" font-size="12" fill="#fff" textLength="44.5" lengthAdjust="spacingAndGlyphs" stroke="#fff" stroke-width="0.3">32116.2</text>
<rect x="940.2" y="233.3" width="94.5" height="18.5" rx="2.5" fill="#ef5350"/>
<text x="945.5" y="247.2" font-size="12.5" fill="#fff" textLength="20" lengthAdjust="spacingAndGlyphs" stroke="#fff" stroke-width="0.3">Ask</text>
<text x="983.4" y="247" font-size="12" fill="#fff" textLength="44.5" lengthAdjust="spacingAndGlyphs" stroke="#fff" stroke-width="0.3">29707.0</text>
<rect x="941" y="252.3" width="93.7" height="18.5" rx="2.5" fill="#2196f3"/>
<text x="946.7" y="266.2" font-size="12.5" fill="#fff" textLength="17.5" lengthAdjust="spacingAndGlyphs" stroke="#fff" stroke-width="0.3">Bid</text>
<text x="983.4" y="266" font-size="12" fill="#fff" textLength="44.5" lengthAdjust="spacingAndGlyphs" stroke="#fff" stroke-width="0.3">29706.0</text>
<path d="M972 270.5H1036.6a2 2 0 0 1 2 2V301.8a2 2 0 0 1-2 2H972Z" fill="#ef5350"/>
<text x="983.4" y="283.9" font-size="12" fill="#fff" textLength="44.5" lengthAdjust="spacingAndGlyphs" stroke="#fff" stroke-width="0.3">29706.0</text>
<text x="983.4" y="299.2" font-size="12" fill="#fff" textLength="47.7" lengthAdjust="spacingAndGlyphs" fill-opacity="0.78" stroke="none">04:14:01</text>
<path d="M972 333H1032.7a2 2 0 0 1 2 2V349.4a2 2 0 0 1-2 2H972Z" fill="#f23645"/>
<rect x="972" y="340" width="61" height="16" fill="#f23645"/>
<path d="M1033 351.4h0.2a1.5 1.5 0 0 1 1.5 1.5V356H1033Z" fill="#f23645"/>
<text x="983.4" y="346.8" font-size="12" fill="#fff" textLength="44.5" lengthAdjust="spacingAndGlyphs" stroke="#fff" stroke-width="0.3">25827.9</text>
<line x1="12" y1="468.5" x2="1041" y2="468.5" stroke="#4c4f5e" stroke-width="1" shape-rendering="crispEdges"/>
<text x="43.5" y="488" font-size="12" fill="#434651" text-anchor="middle" stroke="#434651" stroke-width="0.25">14</text>
<text x="157.5" y="488" font-size="12" fill="#434651" text-anchor="middle" font-weight="bold" stroke="#434651" stroke-width="0.25">Mar</text>
<text x="258" y="488" font-size="12" fill="#434651" text-anchor="middle" stroke="#434651" stroke-width="0.25">14</text>
<text x="394.7" y="488" font-size="12" fill="#434651" text-anchor="middle" font-weight="bold" stroke="#434651" stroke-width="0.25">Apr</text>
<text x="525" y="488" font-size="12" fill="#434651" text-anchor="middle" stroke="#434651" stroke-width="0.25">18</text>
<text x="623.3" y="488" font-size="12" fill="#434651" text-anchor="middle" font-weight="bold" stroke="#434651" stroke-width="0.25">May</text>
<text x="738.3" y="488" font-size="12" fill="#434651" text-anchor="middle" stroke="#434651" stroke-width="0.25">16</text>
<text x="860" y="488" font-size="12" fill="#434651" text-anchor="middle" font-weight="bold" stroke="#434651" stroke-width="0.25">Jun</text>
<text x="952" y="488" font-size="12" fill="#434651" text-anchor="middle" stroke="#434651" stroke-width="0.25">13</text>
<text x="11.3" y="20.9" font-size="13" fill="#131722" textLength="91.6" lengthAdjust="spacingAndGlyphs" stroke="#131722" stroke-width="0.3">analyst101_TWJ</text>
<text x="109" y="20.9" font-size="13" fill="#131722" textLength="55" lengthAdjust="spacingAndGlyphs" stroke="#131722" stroke-width="0.3">published</text>
<text x="170.3" y="20.9" font-size="13" fill="#131722" textLength="14.6" lengthAdjust="spacingAndGlyphs" stroke="#131722" stroke-width="0.3">on</text>
<text x="190" y="20.9" font-size="13" fill="#131722" textLength="101.6" lengthAdjust="spacingAndGlyphs" stroke="#131722" stroke-width="0.3">TradingView.com,</text>
<text x="299.2" y="20.9" font-size="13" fill="#131722" textLength="19.2" lengthAdjust="spacingAndGlyphs" stroke="#131722" stroke-width="0.3">Jun</text>
<text x="324.4" y="20.9" font-size="13" fill="#131722" textLength="15.7" lengthAdjust="spacingAndGlyphs" stroke="#131722" stroke-width="0.3">05,</text>
<text x="346.75" y="20.9" font-size="13" fill="#131722" textLength="24.7" lengthAdjust="spacingAndGlyphs" stroke="#131722" stroke-width="0.3">2022</text>
<text x="377.3" y="20.9" font-size="13" fill="#131722" textLength="29.8" lengthAdjust="spacingAndGlyphs" stroke="#131722" stroke-width="0.3">07:45</text>
<text x="412.4" y="20.9" font-size="13" fill="#131722" textLength="22.7" lengthAdjust="spacingAndGlyphs" stroke="#131722" stroke-width="0.3">UTC</text>
<g fill="#131722">
<path d="M11.9 511H19.9V521.6H15.8V515H11.9Z"/>
<circle cx="23.1" cy="513.4" r="2"/>
<path d="M27 511H31.9L27.8 521.6H23.1Z"/>
</g>
<text x="36.6" y="521.7" font-size="14" fill="#131722" textLength="76.6" lengthAdjust="spacingAndGlyphs" stroke="#131722" stroke-width="0.25">TradingView</text>
</svg>
</body></html>
